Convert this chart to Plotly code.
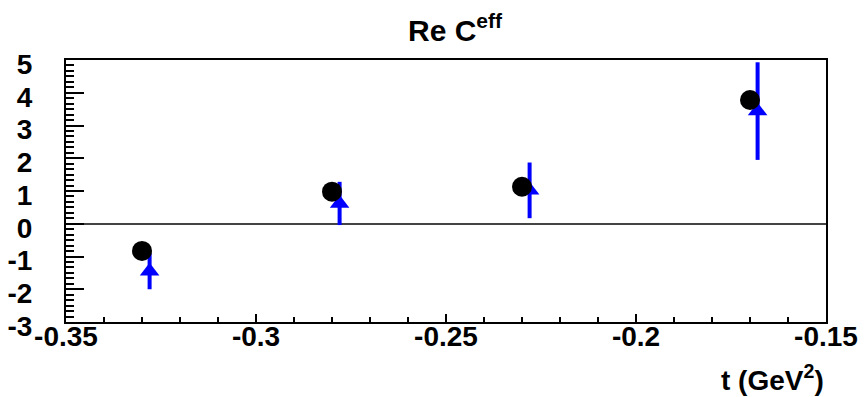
import plotly.graph_objects as go

# Data
t_black = [-0.33, -0.28, -0.23, -0.17]
c_black = [-0.83, 0.98, 1.13, 3.78]

t_blue = [-0.328, -0.278, -0.228, -0.168]
c_blue = [-1.45, 0.62, 1.02, 3.44]
err_blue = [0.55, 0.66, 0.85, 1.49]

x_tickvals = [-0.35, -0.3, -0.25, -0.2, -0.15]
x_ticktext = ["-0.35", "-0.3", "-0.25", "-0.2", "-0.15"]
y_tickvals = [-3, -2, -1, 0, 1, 2, 3, 4, 5]
y_ticktext = ["-3", "-2", "-1", "0", "1", "2", "3", "4", "5"]

FONT = "Liberation Sans"

fig = go.Figure()

fig.add_trace(go.Scatter(
    x=t_blue, y=c_blue, mode="markers",
    marker=dict(symbol="triangle-up", size=17, color="#0000ff"),
    error_y=dict(type="data", array=err_blue, visible=True,
                 color="#0000ff", thickness=4, width=0),
    showlegend=False,
))

fig.add_trace(go.Scatter(
    x=t_black, y=c_black, mode="markers",
    marker=dict(symbol="circle", size=20, color="black"),
    showlegend=False,
))

fig.update_layout(
    width=865, height=397,
    margin=dict(l=66, r=39, t=60, b=75, autoexpand=False),
    paper_bgcolor="white", plot_bgcolor="white",
    font=dict(family=FONT, color="black", size=28, weight="bold"),
    title=dict(
        text="Re C<sup>eff</sup>",
        x=455 / 865, xanchor="center",
        y=1 - 30 / 397, yanchor="middle", yref="container",
        font=dict(family=FONT, size=30, color="black", weight="bold"),
    ),
    annotations=[dict(
        text="t (GeV<sup>2</sup>)",
        xref="paper", yref="paper", x=1.0, y=-0.215,
        xanchor="right", yanchor="middle", showarrow=False,
        font=dict(family=FONT, size=28, color="black", weight="bold"),
    )],
)

fig.update_xaxes(
    range=[-0.35, -0.15], automargin=False,
    showgrid=False, zeroline=False,
    showline=True, mirror=True, linecolor="black", linewidth=2,
    tickmode="array", tickvals=x_tickvals, ticktext=x_ticktext,
    ticks="inside", ticklen=8, tickwidth=2, tickcolor="black",
    minor=dict(tickmode="linear", tick0=-0.35, dtick=0.01,
               ticks="inside", ticklen=5, tickwidth=2, tickcolor="black",
               showgrid=False),
    tickfont=dict(family=FONT, size=28, color="black", weight="bold"),
    ticklabelstandoff=-12,
)

fig.update_yaxes(
    range=[-3, 5], automargin=False,
    showgrid=False,
    zeroline=True, zerolinecolor="#444444", zerolinewidth=2,
    showline=True, mirror=True, linecolor="black", linewidth=2,
    tickmode="array", tickvals=y_tickvals, ticktext=y_ticktext,
    ticks="inside", ticklen=18, tickwidth=2, tickcolor="black",
    minor=dict(tickmode="linear", tick0=0, dtick=1 / 6,
               ticks="inside", ticklen=8, tickwidth=2, tickcolor="black",
               showgrid=False),
    tickfont=dict(family=FONT, size=28, color="black", weight="bold"),
    ticklabelstandoff=26,
    ticklabelshift=4,
)

fig.write_html("out.html")
